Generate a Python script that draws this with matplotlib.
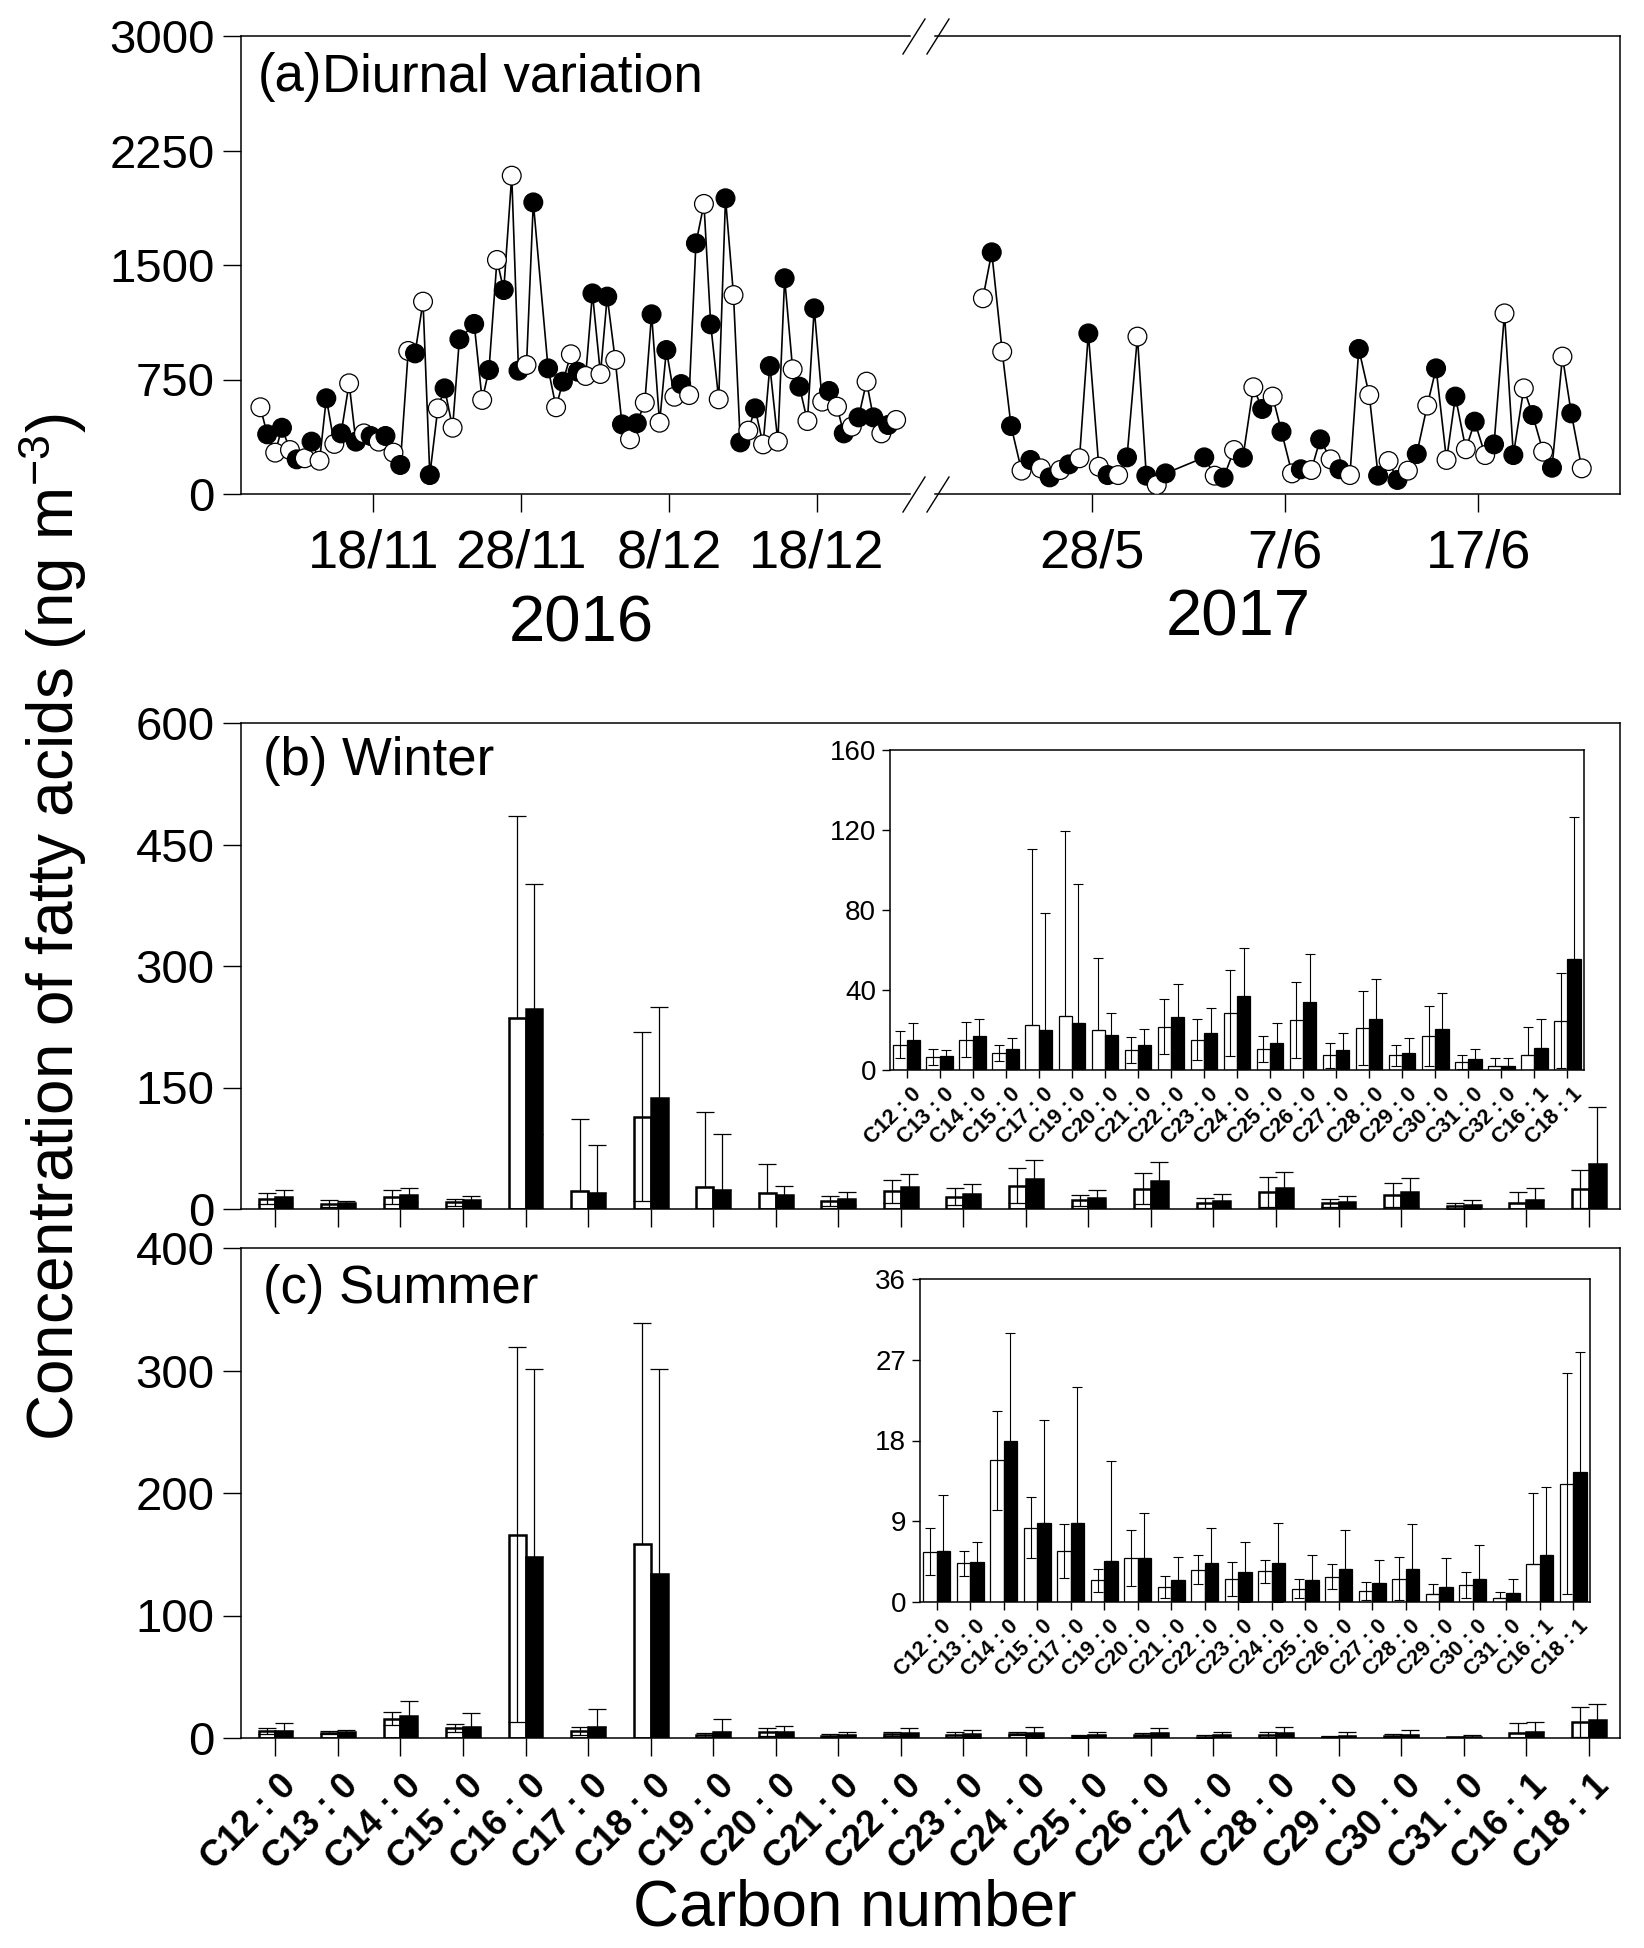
import numpy as np
import matplotlib
matplotlib.use("Agg")
import matplotlib.pyplot as plt
from matplotlib.lines import Line2D
import matplotlib.transforms as mtrans

plt.rcParams['font.family'] = ['Liberation Sans', 'DejaVu Sans']
plt.rcParams['mathtext.fontset'] = 'custom'
plt.rcParams['mathtext.rm'] = 'Liberation Sans'
plt.rcParams['mathtext.it'] = 'Liberation Sans:italic'

# ---- (a) diurnal variation: one value per day (daytime) and per night
start_2016 = '2016-11-10'
day_2016 = [568, 271, 288, 234, 218, 328, 725, 397, 343, 271, 937, 1260, 561, 434, np.nan,
            616, 1533, 2085, 845, np.nan, 568, 915, 773, 786, 878, 358, 598, 467, 637, 648,
            1900, 620, 1303, 415, 325, 343, 817, 478, 605, 572, 441, 736, 397, 485]
night_2016 = [391, 434, 227, 343, 627, 397, 343, 380, 380, 190, 921, 124, 692, 1013, 1114,
              812, 1336, 808, 1910, 823, 736, 801, 1314, 1293, 456, 463, 1177, 943, 720, 1642,
              1111, 1937, 338, 561, 838, 1413, 703, 1216, 675, 397, 502, 502, 452, np.nan]
start_2017 = '2017-05-22'
day_2017 = [1282, 932, 153, 168, 157, 234, 179, 124, 1031, 59, np.nan, np.nan, 120, 288, 699,
            638, 135, 157, 227, 124, 648, 216, 153, 579, 223, 293, 255, 1183, 692, 277, 900, 168]
night_2017 = [1583, 445, 223, 109, 194, 1052, 124, 240, 120, 135, np.nan, 240, 107, 238, 557,
              408, 162, 358, 162, 950, 120, 92, 262, 823, 638, 474, 325, 255, 517, 172, 528, np.nan]
ticks_2016 = ['2016-11-18', '2016-11-28', '2016-12-08', '2016-12-18']
ticklabels_2016 = ['18/11', '28/11', '8/12', '18/12']
ticks_2017 = ['2017-05-28', '2017-06-07', '2017-06-17']
ticklabels_2017 = ['28/5', '7/6', '17/6']

# ---- (b), (c) fatty acids, day (open) and night (filled): mean and SD
acids = ['C12 : 0', 'C13 : 0', 'C14 : 0', 'C15 : 0', 'C16 : 0', 'C17 : 0', 'C18 : 0',
         'C19 : 0', 'C20 : 0', 'C21 : 0', 'C22 : 0', 'C23 : 0', 'C24 : 0', 'C25 : 0',
         'C26 : 0', 'C27 : 0', 'C28 : 0', 'C29 : 0', 'C30 : 0', 'C31 : 0', 'C32 : 0',
         'C16 : 1', 'C18 : 1']
win_day = [12.7, 6.5, 15.2, 8.5, 236, 22.7, 114, 27.2, 20.0, 10.0, 21.7, 15.2, 28.5, 10.5,
           25.0, 7.3, 21.0, 7.3, 17.0, 4.0, 2.0, 7.5, 24.7]
win_day_sd = [6.6, 4.0, 8.8, 4.2, 249, 88, 104, 92.5, 36, 6.5, 13.8, 10.3, 21.7, 6.5,
              19.0, 6.2, 18.5, 5.2, 15.0, 3.5, 4.0, 14.0, 23.7]
win_night = [15.2, 7.2, 17.2, 10.5, 247, 20.2, 137, 23.5, 17.7, 12.7, 26.7, 18.7, 37.2, 13.5,
             34.2, 9.8, 25.5, 8.7, 20.5, 5.5, 2.0, 11.0, 55.5]
win_night_sd = [8.3, 2.6, 8.3, 5.5, 154, 58.5, 113, 69.5, 10.8, 7.8, 16.3, 12.3, 23.8, 10,
                23.8, 8.7, 20, 7.3, 17.8, 5.0, 4.0, 14.5, 71]
sum_day = [5.6, 4.3, 15.8, 8.3, 166, 5.7, 158, 2.4, 4.9, 1.7, 3.6, 2.6, 3.4, 1.5,
           2.8, 1.2, 2.6, 0.9, 1.9, 0.5, np.nan, 4.2, 13.2]
sum_day_sd = [2.6, 1.4, 5.5, 3.4, 153, 3.0, 181, 1.3, 3.1, 1.2, 1.6, 1.9, 1.3, 1.1,
              1.4, 1.0, 2.4, 1.1, 1.45, 0.6, np.nan, 8.0, 12.3]
sum_night = [5.7, 4.5, 17.9, 8.8, 148, 8.8, 134, 4.6, 4.9, 2.45, 4.4, 3.35, 4.4, 2.4,
             3.7, 2.1, 3.7, 1.7, 2.6, 1.0, np.nan, 5.2, 14.5]
sum_night_sd = [6.2, 2.2, 12.1, 11.5, 153, 15.2, 167, 11.1, 5.0, 2.55, 3.9, 3.35, 4.4, 2.8,
                4.3, 2.6, 5.0, 3.2, 3.7, 1.6, np.nan, 7.6, 13.4]

main_acids = [a for a in acids if a != 'C32 : 0']
inset_b_acids = [a for a in acids if a not in ('C16 : 0', 'C18 : 0')]
inset_c_acids = [a for a in inset_b_acids if a != 'C32 : 0']

W, H = 1644, 1948
fig = plt.figure(figsize=(W / 100, H / 100), dpi=100)


def fx(px):
    return px / W


def fy(py):
    return 1 - py / H


def series(start, day, night):
    dates = (np.datetime64(start) + np.arange(len(day))).astype('datetime64[m]')
    t = np.concatenate([dates + np.timedelta64(510, 'm'), dates + np.timedelta64(1170, 'm')])
    v = np.concatenate([np.asarray(day, float), np.asarray(night, float)])
    is_day = np.r_[np.ones(len(day), bool), np.zeros(len(night), bool)]
    order = np.argsort(t, kind='stable')
    t, v, is_day = t[order], v[order], is_day[order]
    keep = ~np.isnan(v)
    return t[keep], v[keep], is_day[keep]


# ---------------- panel (a)
ax1 = fig.add_axes([fx(241), fy(494), fx(910) - fx(241), fy(36) - fy(494)])
ax2 = fig.add_axes([fx(935), fy(494), fx(1620) - fx(935), fy(36) - fy(494)], sharey=ax1)
for ax, start, d, n, tk, tl, lim in [
        (ax1, start_2016, day_2016, night_2016, ticks_2016, ticklabels_2016,
         ('2016-11-09T01:00', '2016-12-24T07:00')),
        (ax2, start_2017, day_2017, night_2017, ticks_2017, ticklabels_2017,
         ('2017-05-19T21:00', '2017-06-24T08:00'))]:
    t, v, isd = series(start, d, n)
    ax.plot(t, v, color='black', lw=1.2, zorder=2)
    ax.scatter(t, v, s=13.5 ** 2, c=['white' if x else 'black' for x in isd],
               edgecolors='black', linewidths=0.9, zorder=3)
    ax.set_xlim(np.datetime64(lim[0]), np.datetime64(lim[1]))
    ax.set_xticks([np.datetime64(x) for x in tk])
    ax.set_xticklabels(tl)
    ax.tick_params(axis='x', direction='out', length=13, width=1, labelsize=39, pad=12)
    ax.tick_params(axis='y', direction='out', length=13, width=1, labelsize=34, pad=6)
    for s in ax.spines.values():
        s.set_linewidth(1.1)
ax1.set_ylim(0, 3000)
ax1.set_yticks([0, 750, 1500, 2250, 3000])
ax1.spines['right'].set_visible(False)
ax2.spines['left'].set_visible(False)
ax2.tick_params(axis='y', left=False, labelleft=False)

for yb in (494, 36):
    for x0 in (903, 927):
        fig.add_artist(Line2D([fx(x0), fx(x0 + 22)], [fy(yb + 18), fy(yb - 17)],
                              transform=fig.transFigure, color='black', lw=1.0))

fig.text(fx(258), fy(77), '(a)', fontsize=38, va='center', ha='left')
fig.text(fx(322), fy(77), 'Diurnal variation', fontsize=38, va='center', ha='left')
fig.text(fx(581), fy(624), '2016', fontsize=47, ha='center', va='center')
fig.text(fx(1238), fy(618), '2017', fontsize=47, ha='center', va='center')


# ---------------- bar panels
def pick(names, values):
    return np.array([values[acids.index(a)] for a in names], float)


def bars(ax, names, day, day_sd, night, night_sd, w, elw, blw, cap):
    x = np.arange(len(names))
    d, dsd = pick(names, day), pick(names, day_sd)
    n, nsd = pick(names, night), pick(names, night_sd)
    ax.bar(x - w / 2, d, w, color='white', edgecolor='black', linewidth=blw, zorder=2)
    ax.bar(x + w / 2, n, w, color='black', edgecolor='black', linewidth=blw, zorder=2)
    for xx, m, sd in [(x - w / 2, d, dsd), (x + w / 2, n, nsd)]:
        lower = np.where(m - sd >= 0, sd, 0)
        ax.errorbar(xx, m, yerr=[lower, sd], fmt='none', ecolor='black',
                    elinewidth=elw, capsize=cap, capthick=elw, zorder=3)
    ax.set_xticks(x)
    ax.set_xlim(-0.55, len(names) - 0.5)
    for s in ax.spines.values():
        s.set_linewidth(1.1)


def cat_labels(ax, names, size, dx, dy):
    ax.set_xticklabels(names, rotation=45, ha='right', va='top', rotation_mode='anchor',
                       fontsize=size, fontweight='bold')
    off = mtrans.ScaledTranslation(dx / 100, dy / 100, fig.dpi_scale_trans)
    for lab in ax.get_xticklabels():
        lab.set_transform(lab.get_transform() + off)


axb = fig.add_axes([fx(241), fy(1209), fx(1620) - fx(241), fy(723) - fy(1209)])
bars(axb, main_acids, win_day, win_day_sd, win_night, win_night_sd, 0.27, 0.9, 1.8, 6.5)
axb.set_ylim(0, 600)
axb.set_yticks([0, 150, 300, 450, 600])
axb.set_xticklabels([])
axb.tick_params(axis='both', direction='out', length=13, width=1, labelsize=34, pad=6)
fig.text(fx(263), fy(761), '(b) Winter', fontsize=38, va='center', ha='left')

axc = fig.add_axes([fx(241), fy(1738), fx(1620) - fx(241), fy(1248) - fy(1738)])
bars(axc, main_acids, sum_day, sum_day_sd, sum_night, sum_night_sd, 0.27, 0.9, 1.8, 6.5)
axc.set_ylim(0, 400)
axc.set_yticks([0, 100, 200, 300, 400])
axc.tick_params(axis='both', direction='out', length=13, width=1, labelsize=34, pad=6)
cat_labels(axc, main_acids, 26, 3, -4)
fig.text(fx(263), fy(1289), '(c) Summer', fontsize=38, va='center', ha='left')

ib = fig.add_axes([fx(890), fy(1070), fx(1584) - fx(890), fy(750) - fy(1070)])
bars(ib, inset_b_acids, win_day, win_day_sd, win_night, win_night_sd, 0.4, 0.8, 0.9, 3.8)
ib.set_xlim(-0.5, len(inset_b_acids) - 0.5)
ib.set_ylim(0, 160)
ib.set_yticks([0, 40, 80, 120, 160])
ib.tick_params(axis='both', direction='out', length=6, width=1, labelsize=20, pad=4)
cat_labels(ib, inset_b_acids, 15.5, 4, 0)

ic = fig.add_axes([fx(920), fy(1602), fx(1590) - fx(920), fy(1279) - fy(1602)])
bars(ic, inset_c_acids, sum_day, sum_day_sd, sum_night, sum_night_sd, 0.4, 0.8, 0.9, 3.8)
ic.set_xlim(-0.5, len(inset_c_acids) - 0.5)
ic.set_ylim(0, 36)
ic.set_yticks([0, 9, 18, 27, 36])
ic.tick_params(axis='both', direction='out', length=6, width=1, labelsize=20, pad=4)
cat_labels(ic, inset_c_acids, 15.5, 4, 0)

fig.text(fx(53), fy(927), 'Concentration of fatty acids (ng m$^{-3}$)', rotation=90,
         fontsize=46, ha='center', va='center')
fig.text(fx(855), fy(1908), 'Carbon number', fontsize=46, ha='center', va='center')

fig.savefig('out.png', dpi=100)
